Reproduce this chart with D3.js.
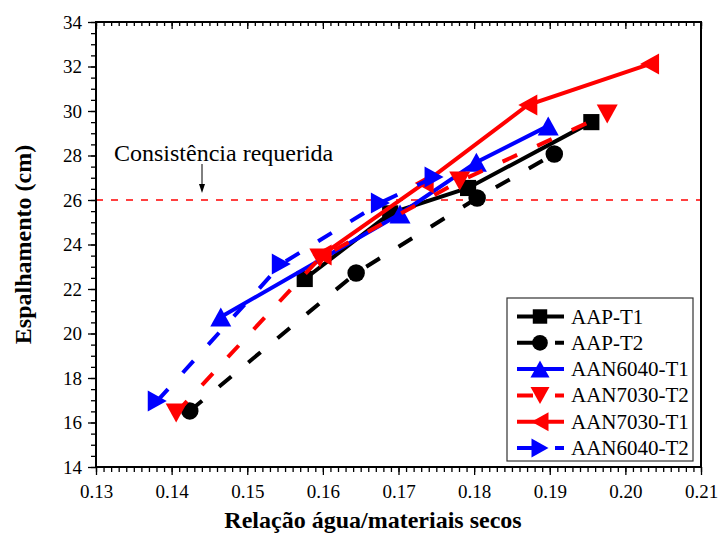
<!DOCTYPE html>
<html>
<head>
<meta charset="utf-8">
<script src="https://cdn.jsdelivr.net/npm/d3@7"></script>
<style>
  body { margin: 0; background: #fff; }
  svg { display: block; }
  svg text { font-family: "Liberation Serif", "Times New Roman", serif; fill: #000; }
</style>
</head>
<body>
<div id="chart"></div>
<script>
// data
var seriesNames = ["AAP-T1", "AAP-T2", "AAN6040-T1", "AAN7030-T2", "AAN7030-T1", "AAN6040-T2"];

var xAAPT1 = [0.1576, 0.1689, 0.1792, 0.1955];
var yAAPT1 = [22.45, 25.40, 26.54, 29.50];
var xAAPT2 = [0.1424, 0.1644, 0.1804, 0.1906];
var yAAPT2 = [16.52, 22.72, 26.09, 28.07];
var xAAN6040T1 = [0.1465, 0.1702, 0.1803, 0.1898];
var yAAN6040T1 = [20.74, 25.37, 27.70, 29.33];
var xAAN7030T2 = [0.1406, 0.1596, 0.1781, 0.1976];
var yAAN7030T2 = [16.43, 23.39, 26.85, 29.87];
var xAAN7030T1 = [0.1599, 0.1734, 0.1871, 0.2032];
var yAAN7030T1 = [23.53, 26.76, 30.27, 32.11];
var xAAN6040T2 = [0.1381, 0.1545, 0.1676, 0.1747];
var yAAN6040T2 = [16.97, 23.12, 25.87, 27.03];

var xTicks = [0.13, 0.14, 0.15, 0.16, 0.17, 0.18, 0.19, 0.20, 0.21];
var yTicks = [14, 16, 18, 20, 22, 24, 26, 28, 30, 32, 34];
var requiredSpread = 26;

var width = 719, height = 535;
var margin = { left: 96, top: 22, right: 18, bottom: 68 };

var x = d3.scaleLinear().domain([0.13, 0.21]).range([margin.left, width - margin.right]);
var y = d3.scaleLinear().domain([14, 34]).range([height - margin.bottom, margin.top]);

var series = [
  { name: seriesNames[0], xs: xAAPT1, ys: yAAPT1, color: "#000", dashed: false, shape: "square" },
  { name: seriesNames[1], xs: xAAPT2, ys: yAAPT2, color: "#000", dashed: true, shape: "circle" },
  { name: seriesNames[2], xs: xAAN6040T1, ys: yAAN6040T1, color: "#0000ff", dashed: false, shape: "up" },
  { name: seriesNames[3], xs: xAAN7030T2, ys: yAAN7030T2, color: "#ff0000", dashed: true, shape: "down" },
  { name: seriesNames[4], xs: xAAN7030T1, ys: yAAN7030T1, color: "#ff0000", dashed: false, shape: "left" },
  { name: seriesNames[5], xs: xAAN6040T2, ys: yAAN6040T2, color: "#0000ff", dashed: true, shape: "right" }
];

// marker outlines, centred on 0,0
function markerPath(shape, s) {
  var h = s / 2;
  if (shape == "square") return "M" + (-h * 0.85) + "," + (-h * 0.85) + "h" + (s * 0.85) + "v" + (s * 0.85) + "h" + (-s * 0.85) + "Z";
  if (shape == "circle") return d3.symbol(d3.symbolCircle, Math.PI * h * h * 0.85)();
  if (shape == "up") return "M0," + (-h) + "L" + (h + 1) + "," + h + "L" + (-h - 1) + "," + h + "Z";
  if (shape == "down") return "M0," + h + "L" + (h + 1) + "," + (-h) + "L" + (-h - 1) + "," + (-h) + "Z";
  if (shape == "left") return "M" + (-h) + ",0L" + h + "," + (-h - 1) + "L" + h + "," + (h + 1) + "Z";
  return "M" + h + ",0L" + (-h) + "," + (-h - 1) + "L" + (-h) + "," + (h + 1) + "Z";
}

var svg = d3.select("#chart").append("svg")
  .attr("width", width)
  .attr("height", height);

var x0 = x.range()[0], x1 = x.range()[1], y0 = y.range()[0], y1 = y.range()[1];

// required consistency line + label
svg.append("line")
  .attr("x1", x0).attr("x2", x1)
  .attr("y1", y(requiredSpread)).attr("y2", y(requiredSpread))
  .attr("stroke", "#ff0000").attr("stroke-width", 1.5)
  .attr("stroke-dasharray", "7,8");

svg.append("text")
  .attr("x", 114).attr("y", 161)
  .attr("font-size", 24)
  .text("Consistência requerida");

var ax = 202;
svg.append("line")
  .attr("x1", ax).attr("x2", ax)
  .attr("y1", 164).attr("y2", 186)
  .attr("stroke", "#000").attr("stroke-width", 1);
svg.append("path")
  .attr("d", "M" + (ax - 3) + ",184L" + (ax + 3) + ",184L" + ax + "," + (y(requiredSpread) - 7) + "Z")
  .attr("fill", "#000");

// series
var line = d3.line()
  .x(function(d) { return x(d[0]); })
  .y(function(d) { return y(d[1]); });

series.forEach(function(s) {
  var pts = s.xs.map(function(v, i) { return [v, s.ys[i]]; });
  var g = svg.append("g");
  g.append("path")
    .attr("d", line(pts))
    .attr("fill", "none")
    .attr("stroke", s.color)
    .attr("stroke-width", 4)
    .attr("stroke-dasharray", s.dashed ? "16,22" : null);
  g.selectAll("path.m")
    .data(pts)
    .enter()
    .append("path")
    .attr("class", "m")
    .attr("d", markerPath(s.shape, 19))
    .attr("transform", function(d) { return "translate(" + x(d[0]) + "," + y(d[1]) + ")"; })
    .attr("fill", s.color);
});

// axes
var minorX = d3.range(0, 81).map(function(i) { return 0.13 + i * 0.001; });
var minorY = d3.range(0, 41).map(function(i) { return 14 + i * 0.5; });

var axisB = svg.append("g")
  .attr("transform", "translate(0," + y0 + ")")
  .call(d3.axisBottom(x).tickValues(minorX).tickSize(5).tickFormat(""));
axisB.append("g")
  .call(d3.axisBottom(x).tickValues(xTicks).tickSize(8).tickPadding(10).tickFormat(d3.format(".2f")));

var axisT = svg.append("g")
  .attr("transform", "translate(0," + y1 + ")")
  .call(d3.axisBottom(x).tickValues(minorX).tickSize(4).tickFormat(""));
axisT.append("g")
  .call(d3.axisBottom(x).tickValues(xTicks).tickSize(7).tickFormat(""));

var axisL = svg.append("g")
  .attr("transform", "translate(" + x0 + ",0)")
  .call(d3.axisLeft(y).tickValues(minorY).tickSize(5).tickFormat(""));
axisL.append("g")
  .call(d3.axisLeft(y).tickValues(yTicks).tickSize(8).tickPadding(6).tickFormat(d3.format("d")));

svg.selectAll(".domain").remove();
svg.selectAll(".tick line").attr("stroke", "#000").attr("stroke-width", 1.3);
svg.selectAll(".tick text")
  .attr("font-size", 19)
  .attr("fill", "#000");

svg.append("rect")
  .attr("x", x0).attr("y", y1)
  .attr("width", x1 - x0).attr("height", y0 - y1)
  .attr("fill", "none")
  .attr("stroke", "#000")
  .attr("stroke-width", 2);

// axis titles
svg.append("text")
  .attr("x", 373).attr("y", 528)
  .attr("text-anchor", "middle")
  .attr("font-size", 24)
  .attr("font-weight", "bold")
  .text("Relação água/materiais secos");

svg.append("text")
  .attr("transform", "translate(31," + ((y0 + y1) / 2) + ") rotate(-90)")
  .attr("text-anchor", "middle")
  .attr("font-size", 24)
  .attr("font-weight", "bold")
  .text("Espalhamento (cm)");

// legend
var lx = 507, ly = 298, lw = 186, lh = 163, rowH = 26.3;
var legend = svg.append("g");
legend.append("rect")
  .attr("x", lx).attr("y", ly)
  .attr("width", lw).attr("height", lh)
  .attr("fill", "#fff")
  .attr("stroke", "#333")
  .attr("stroke-width", 1.2);

var rows = legend.selectAll("g.row")
  .data(series)
  .enter()
  .append("g")
  .attr("class", "row")
  .attr("transform", function(d, i) { return "translate(" + lx + "," + (ly + 18.5 + i * rowH) + ")"; });

rows.append("line")
  .attr("x1", 10).attr("x2", 57)
  .attr("stroke", function(d) { return d.color; })
  .attr("stroke-width", 4)
  .attr("stroke-dasharray", function(d) { return d.dashed ? "16,22" : null; });
rows.append("path")
  .attr("d", function(d) { return markerPath(d.shape, 17); })
  .attr("transform", "translate(33,0)")
  .attr("fill", function(d) { return d.color; });
rows.append("text")
  .attr("x", 64).attr("y", 7)
  .attr("font-size", 21)
  .text(function(d) { return d.name; });
</script>
</body>
</html>
